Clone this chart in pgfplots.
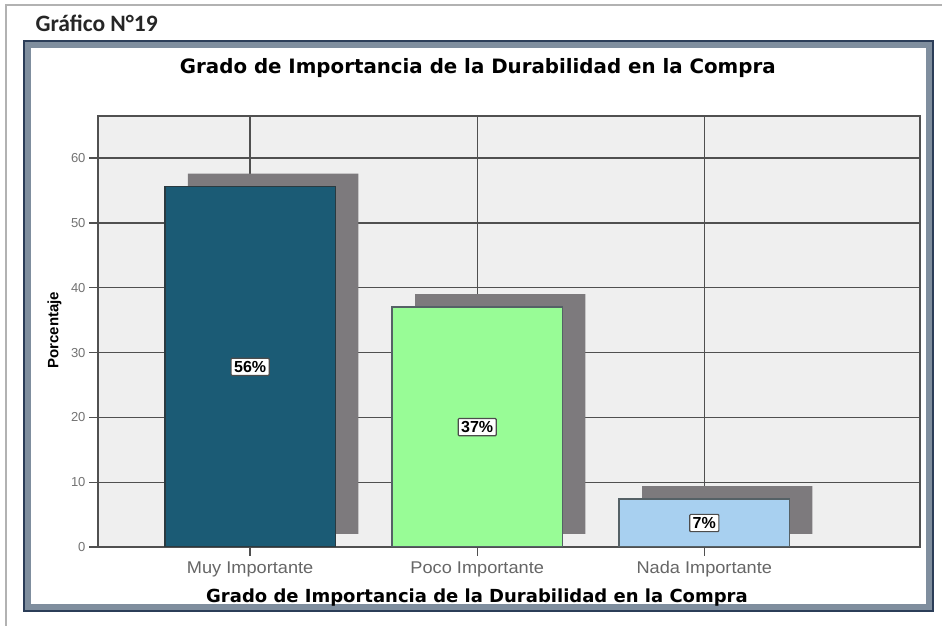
\documentclass[border=0pt]{standalone}
\usepackage{pgfplots}
\pgfplotsset{compat=1.18}
\usepackage{pgfplotstable}
\usepackage{fontspec}
\setmainfont{Liberation Sans}
\newfontfamily\verd{DejaVu Sans}
\newfontfamily\calib{Carlito}
\definecolor{bgc}{HTML}{EFEFEF}
\definecolor{gridc}{HTML}{505050}
\definecolor{barA}{HTML}{1B5B75}
\definecolor{barB}{HTML}{98FC96}
\definecolor{barC}{HTML}{A8D0F0}
\definecolor{shad}{HTML}{7D7A7D}
\definecolor{edgec}{HTML}{2A3A40}
\definecolor{framec}{HTML}{2B3D58}
\definecolor{frameb}{HTML}{7F8E9E}
\pgfplotstableread{
x v
0 55.6
1 37.0
2 7.4
}\data
\begin{document}
\begin{tikzpicture}
\useasboundingbox (0pt,0pt) rectangle (942pt,626pt);
% outer light border
\draw[gray!60, line width=1.5pt] (6pt,0pt) -- (6pt,621pt) -- (942pt,621pt);
\node[anchor=west, font=\calib\bfseries\fontsize{23.5}{26}\selectfont, text=black!85] at (32pt,603pt) {Gráfico N°19};
% chart frame
\fill[white] (24pt,15pt) rectangle (933pt,585pt);
\draw[frameb, line width=6pt] (28pt,19pt) rectangle (929pt,581pt);
\draw[framec, line width=1.6pt] (24pt,15pt) rectangle (933pt,585pt);
\draw[white, line width=2pt] (32pt,23pt) rectangle (925pt,577pt);
\begin{axis}[
  scale only axis, width=822pt, height=431pt,
  at={(98pt,79pt)}, anchor=south west,
  xmin=-0.67, xmax=2.95, ymin=0, ymax=66.5,
  axis background/.style={fill=bgc},
  xtick={0,1,2},
  xticklabels={Muy Importante, Poco Importante, Nada Importante},
  ytick={0,10,...,60},
  tick pos=left, tick align=outside, major tick length=9pt,
  tick style={draw=gridc, line width=1.3pt},
  grid=major, major grid style={draw=gridc, line width=1.3pt},
  axis line style={draw=gridc, line width=1.5pt},
  xticklabel style={font=\fontsize{17}{19}\selectfont, text=black!60, xscale=1.07, yshift=-2pt},
  yticklabel style={font=\fontsize{13}{15}\selectfont, text=black!55},
  xlabel={\verd\bfseries Grado de Importancia de la Durabilidad en la Compra},
  xlabel style={font=\fontsize{18}{20}\selectfont, at={(axis description cs:0.461,-0.118)}, anchor=center},
  ylabel={\bfseries Porcentaje},
  ylabel style={font=\fontsize{15}{17}\selectfont, at={(axis description cs:-0.053,0.503)}, anchor=center},
  title={\verd\bfseries Grado de Importancia de la Durabilidad en la Compra},
  title style={font=\fontsize{19.8}{22}\selectfont, at={(axis description cs:0.462,1.097)}, anchor=center},
  /pgf/number format/assume math mode=true,
]
% shadows
\addplot[ybar, bar width=0.75, bar shift=0pt, fill=shad, draw=none, xshift=23pt, yshift=13pt] table[x=x, y=v] {\data};
% bars
\addplot[ybar, bar width=0.75, bar shift=0pt, fill=barA, draw=edgec, line width=1.5pt] coordinates {(0,55.6)};
\addplot[ybar, bar width=0.75, bar shift=0pt, fill=barB, draw=edgec!80, line width=1.5pt] coordinates {(1,37.0)};
\addplot[ybar, bar width=0.75, bar shift=0pt, fill=barC, draw=edgec!80, line width=1.5pt] coordinates {(2,7.4)};
% labels
\addplot[draw=none, mark=none, nodes near coords, point meta=explicit symbolic,
  nodes near coords align={anchor=center},
  every node near coord/.style={fill=white, draw=black!70, line width=1.2pt, rounded corners=1pt, inner sep=3pt, font=\bfseries\fontsize{16}{18}\selectfont, text=black}]
  coordinates {(0,27.8)[56\%] (1,18.5)[37\%] (2,3.7)[7\%]};
\end{axis}
\end{tikzpicture}
\end{document}
